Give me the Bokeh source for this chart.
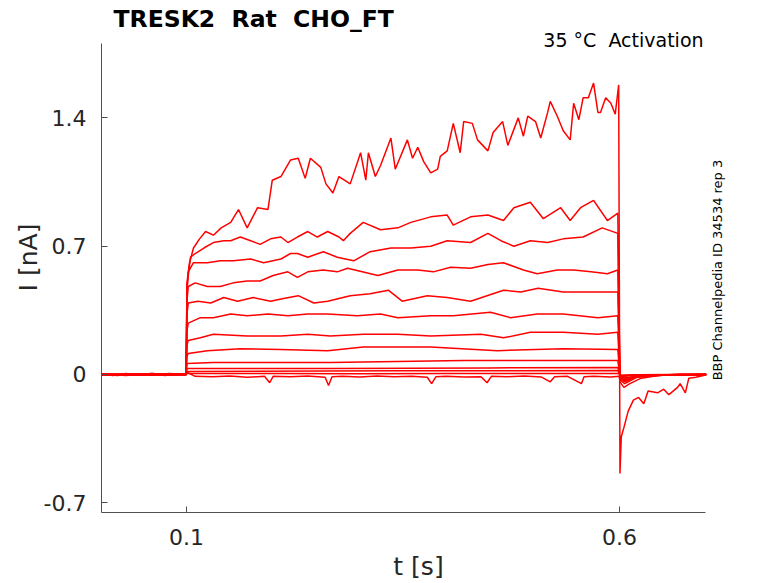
import math
from bokeh.plotting import figure
from bokeh.models import Range1d, FixedTicker, Label
from bokeh.embed import file_html
from bokeh.resources import INLINE

# ---------------- data ----------------
X_TICKS = [0.1, 0.6]
X_TICK_LABELS = ["0.1", "0.6"]
Y_TICKS = [-0.7, 0.0, 0.7, 1.4]
Y_TICK_LABELS = ["-0.7", "0", "0.7", "1.4"]

NB = "\u00a0"  # keeps the double spaces of the original (SVG collapses plain spaces)
TITLE = "TRESK2" + NB + " Rat" + NB + " CHO_FT"
SUBTITLE = "35 °C" + NB + " Activation"
SIDE_NOTE = "BBP Channelpedia ID 34534 rep 3"
X_LABEL = "t [s]"
Y_LABEL = "I [nA]"

# time [s] and current [nA] for each sweep
T1 = [0.0, 0.02, 0.04, 0.06, 0.08, 0.0995, 0.1005, 0.103, 0.108, 0.115, 0.122, 0.131, 0.140, 0.151,
      0.160, 0.170, 0.182, 0.194, 0.199, 0.209, 0.220, 0.229, 0.237, 0.243, 0.255, 0.261, 0.269,
      0.276, 0.289, 0.301, 0.307, 0.310, 0.318, 0.324, 0.336, 0.341, 0.355, 0.361, 0.367, 0.374,
      0.382, 0.390, 0.393, 0.401, 0.408, 0.416, 0.420, 0.430, 0.436, 0.448, 0.454, 0.465, 0.471,
      0.483, 0.489, 0.494, 0.503, 0.509, 0.517, 0.520, 0.528, 0.535, 0.543, 0.547, 0.553, 0.558,
      0.564, 0.570, 0.575, 0.578, 0.584, 0.590, 0.595, 0.599, 0.6005, 0.602, 0.605, 0.610, 0.616,
      0.622, 0.628, 0.633, 0.644, 0.651, 0.657, 0.667, 0.670, 0.676, 0.680, 0.688, 0.697, 0.700]
I1 = [0.003, -0.006, 0.004, -0.004, 0.005, 0.0, 0.50, 0.60, 0.69, 0.74, 0.78, 0.76, 0.80, 0.83,
      0.90, 0.80, 0.91, 0.90, 1.06, 1.08, 1.17, 1.18, 1.07, 1.18, 1.13, 1.04, 0.99,
      1.08, 1.04, 1.21, 1.06, 1.21, 1.08, 1.14, 1.29, 1.12, 1.28, 1.18, 1.24, 1.16,
      1.10, 1.12, 1.19, 1.22, 1.37, 1.21, 1.38, 1.37, 1.28, 1.22, 1.32, 1.38, 1.25,
      1.40, 1.30, 1.41, 1.38, 1.29, 1.43, 1.49, 1.41, 1.33, 1.28, 1.48, 1.39, 1.51,
      1.51, 1.59, 1.43, 1.43, 1.51, 1.48, 1.42, 1.58, -0.54, -0.34, -0.29, -0.20, -0.14,
      -0.125, -0.16, -0.09, -0.10, -0.08, -0.11, -0.07, -0.05, -0.10, -0.02, -0.015, -0.005, 0.0]

T2 = [0.0, 0.03, 0.06, 0.09, 0.0995, 0.1005, 0.1046, 0.110, 0.120, 0.131, 0.143, 0.151, 0.162,
      0.174, 0.185, 0.197, 0.209, 0.217, 0.228, 0.240, 0.251, 0.263, 0.276, 0.281, 0.289, 0.304,
      0.324, 0.344, 0.359, 0.382, 0.401, 0.408, 0.428, 0.448, 0.466, 0.478, 0.497, 0.512, 0.532,
      0.543, 0.555, 0.570, 0.586, 0.598, 0.6005, 0.605, 0.612, 0.625, 0.645, 0.670, 0.700]
I2 = [0.004, -0.005, 0.006, -0.003, 0.0, 0.48, 0.64, 0.66, 0.69, 0.72, 0.73, 0.73, 0.75,
      0.73, 0.71, 0.74, 0.75, 0.72, 0.75, 0.78, 0.75, 0.78, 0.75, 0.73, 0.77, 0.83,
      0.79, 0.80, 0.83, 0.86, 0.87, 0.815, 0.86, 0.87, 0.84, 0.91, 0.94, 0.85, 0.91,
      0.84, 0.91, 0.95, 0.84, 0.88, -0.04, -0.07, -0.05, -0.02, -0.005, 0.003, 0.0]

T3 = [0.0, 0.05, 0.0995, 0.1005, 0.102, 0.108, 0.124, 0.139, 0.154, 0.174, 0.189, 0.209, 0.220,
      0.228, 0.240, 0.258, 0.274, 0.293, 0.312, 0.336, 0.359, 0.382, 0.401, 0.428, 0.448, 0.463,
      0.478, 0.497, 0.517, 0.535, 0.558, 0.580, 0.598, 0.6005, 0.606, 0.62, 0.65, 0.70]
I3 = [-0.003, 0.004, 0.0, 0.45, 0.56, 0.61, 0.61, 0.62, 0.62, 0.63, 0.61, 0.63, 0.66,
      0.66, 0.64, 0.67, 0.64, 0.62, 0.67, 0.69, 0.69, 0.70, 0.73, 0.72, 0.77, 0.73,
      0.70, 0.73, 0.72, 0.74, 0.75, 0.80, 0.77, -0.03, -0.05, -0.015, -0.004, 0.0]

T4 = [0.0, 0.05, 0.0995, 0.1005, 0.102, 0.110, 0.124, 0.139, 0.154, 0.170, 0.185, 0.200, 0.217,
      0.228, 0.240, 0.258, 0.274, 0.286, 0.321, 0.344, 0.367, 0.385, 0.405, 0.428, 0.448, 0.466,
      0.489, 0.505, 0.528, 0.547, 0.567, 0.586, 0.598, 0.6005, 0.606, 0.62, 0.65, 0.70]
I4 = [0.003, -0.004, 0.0, 0.40, 0.48, 0.50, 0.48, 0.48, 0.50, 0.51, 0.51, 0.54, 0.56,
      0.53, 0.56, 0.57, 0.56, 0.58, 0.54, 0.57, 0.57, 0.56, 0.585, 0.58, 0.60, 0.61,
      0.57, 0.55, 0.57, 0.57, 0.56, 0.55, 0.57, -0.02, -0.04, -0.012, -0.003, 0.0]

T5 = [0.0, 0.05, 0.0995, 0.1005, 0.102, 0.113, 0.128, 0.143, 0.159, 0.177, 0.197, 0.212, 0.229,
      0.247, 0.263, 0.289, 0.312, 0.333, 0.349, 0.378, 0.401, 0.428, 0.466, 0.486, 0.506, 0.535,
      0.567, 0.598, 0.6005, 0.606, 0.62, 0.65, 0.70]
I5 = [-0.004, 0.003, 0.0, 0.33, 0.39, 0.40, 0.39, 0.42, 0.40, 0.42, 0.40, 0.415, 0.43,
      0.39, 0.40, 0.43, 0.44, 0.46, 0.40, 0.43, 0.42, 0.40, 0.46, 0.45, 0.47, 0.45,
      0.45, 0.45, -0.02, -0.035, -0.01, -0.003, 0.0]

T6 = [0.0, 0.05, 0.0995, 0.1005, 0.102, 0.116, 0.131, 0.151, 0.170, 0.194, 0.217, 0.240, 0.263,
      0.297, 0.324, 0.344, 0.382, 0.408, 0.451, 0.474, 0.505, 0.535, 0.575, 0.598, 0.6005, 0.606,
      0.62, 0.65, 0.70]
I6 = [0.002, -0.003, 0.0, 0.24, 0.28, 0.31, 0.31, 0.33, 0.32, 0.33, 0.32, 0.33, 0.33,
      0.32, 0.33, 0.31, 0.32, 0.32, 0.34, 0.31, 0.33, 0.33, 0.31, 0.32, -0.015, -0.03,
      -0.008, -0.002, 0.0]

T7 = [0.0, 0.05, 0.0995, 0.1005, 0.102, 0.116, 0.131, 0.170, 0.209, 0.240, 0.266, 0.304, 0.344,
      0.382, 0.440, 0.466, 0.497, 0.535, 0.575, 0.598, 0.6005, 0.608, 0.63, 0.70]
I7 = [-0.002, 0.003, 0.0, 0.16, 0.186, 0.20, 0.22, 0.21, 0.21, 0.22, 0.21, 0.22, 0.22,
      0.21, 0.22, 0.20, 0.23, 0.23, 0.22, 0.23, -0.012, -0.02, -0.005, 0.0]

T8 = [0.0, 0.05, 0.0995, 0.1005, 0.102, 0.124, 0.162, 0.209, 0.263, 0.304, 0.382, 0.459, 0.535,
      0.598, 0.6005, 0.61, 0.64, 0.70]
I8 = [0.002, -0.002, 0.0, 0.10, 0.115, 0.13, 0.14, 0.137, 0.13, 0.15, 0.15, 0.13, 0.14,
      0.137, -0.01, -0.015, -0.003, 0.0]

T9 = [0.0, 0.05, 0.0995, 0.1005, 0.131, 0.266, 0.420, 0.598, 0.6005, 0.62, 0.70]
I9 = [-0.002, 0.002, 0.0, 0.06, 0.066, 0.066, 0.077, 0.077, -0.008, -0.003, 0.0]

T10 = [0.0, 0.0995, 0.1005, 0.266, 0.450, 0.598, 0.6005, 0.62, 0.70]
I10 = [0.001, 0.0, 0.033, 0.033, 0.036, 0.038, -0.006, -0.002, 0.0]

T11 = [0.0, 0.0995, 0.1005, 0.350, 0.598, 0.6005, 0.70]
I11 = [0.0, 0.0, 0.016, 0.02, 0.022, -0.004, 0.0]

T12 = [0.0, 0.015, 0.03, 0.045, 0.06, 0.075, 0.09, 0.0995, 0.1005, 0.11, 0.13, 0.15, 0.17, 0.19,
       0.196, 0.20, 0.22, 0.24, 0.26, 0.264, 0.268, 0.28, 0.30, 0.32, 0.34, 0.36, 0.378, 0.383,
       0.388, 0.40, 0.42, 0.44, 0.447, 0.452, 0.47, 0.49, 0.51, 0.520, 0.525, 0.54, 0.556, 0.559,
       0.57, 0.59, 0.5995, 0.6005, 0.606, 0.62, 0.64, 0.66, 0.68, 0.70]
I12 = [0.004, -0.006, 0.005, -0.004, 0.006, -0.005, 0.003, 0.0, 0.012, -0.01, -0.012, -0.008,
       -0.015, -0.01, -0.045, -0.01, -0.012, -0.008, -0.015, -0.06, -0.012, -0.01, -0.014,
       -0.008, -0.012, -0.01, -0.015, -0.05, -0.012, -0.01, -0.014, -0.012, -0.045, -0.01,
       -0.012, -0.008, -0.014, -0.04, -0.012, -0.01, -0.05, -0.012, -0.01, -0.014, -0.01,
       -0.03, -0.02, -0.01, -0.006, -0.003, -0.004, -0.002]

T13 = [0.0, 0.1, 0.1005, 0.2, 0.3, 0.4, 0.5, 0.5995, 0.6005, 0.62, 0.7]
I13 = [0.0, 0.002, 0.006, 0.005, 0.004, 0.006, 0.005, 0.006, -0.01, -0.002, 0.0]

SWEEPS = [(T1, I1), (T2, I2), (T3, I3), (T4, I4), (T5, I5), (T6, I6), (T7, I7),
          (T8, I8), (T9, I9), (T10, I10), (T11, I11), (T12, I12), (T13, I13)]
for _t, _i in SWEEPS:
    if len(_t) != len(_i):
        raise ValueError("length mismatch")

# axis extents (the drawn axes) and the wider frame that also holds the texts
X_AXIS_BOUNDS = (0.0018, 0.6993)
Y_AXIS_BOUNDS = (-0.753, 1.806)

# ---------------- figure ----------------
FONT = "DejaVu Sans"
AXIS_GREY = "#505050"
TEXT = "#262626"

p = figure(width=778, height=583, output_backend="svg", toolbar_location=None,
           x_range=Range1d(0.0018, 0.7339), y_range=Range1d(-0.7529, 2.0295),
           min_border_left=101, min_border_right=43, min_border_top=2, min_border_bottom=71,
           background_fill_color="white", border_fill_color="white", outline_line_color=None)
p.grid.visible = False

for t, i in SWEEPS:
    p.line(t, i, line_color="#ff0000", line_width=1.5)

p.xaxis.ticker = FixedTicker(ticks=X_TICKS)
p.xaxis.major_label_overrides = dict(zip(X_TICKS, X_TICK_LABELS))
p.xaxis.bounds = X_AXIS_BOUNDS
p.yaxis.ticker = FixedTicker(ticks=Y_TICKS)
p.yaxis.major_label_overrides = dict(zip(Y_TICKS, Y_TICK_LABELS))
p.yaxis.bounds = Y_AXIS_BOUNDS

for ax in (p.xaxis, p.yaxis):
    ax.axis_line_color = AXIS_GREY
    ax.axis_line_width = 1
    ax.major_tick_line_color = AXIS_GREY
    ax.major_tick_in = 6
    ax.major_tick_out = 0
    ax.minor_tick_line_color = None
    ax.major_label_text_font = FONT
    ax.major_label_text_font_size = "22px"
    ax.major_label_text_color = TEXT
    ax.axis_label_text_font = FONT
    ax.axis_label_text_font_size = "25px"
    ax.axis_label_text_font_style = "normal"
    ax.axis_label_text_color = TEXT
p.xaxis.major_label_standoff = 16
p.yaxis.major_label_standoff = 15
p.xaxis.axis_label = X_LABEL
p.yaxis.axis_label = Y_LABEL
p.xaxis.axis_label_standoff = 4
p.yaxis.axis_label_standoff = -2

p.add_layout(Label(x=0.0157, y=1.9387, text=TITLE, text_font=FONT, text_font_size="23.5px",
                   text_font_style="bold", text_color="black", text_align="left",
                   text_baseline="alphabetic"))
p.add_layout(Label(x=0.697, y=1.826, text=SUBTITLE, text_font=FONT, text_font_size="19px",
                   text_color="black", text_align="right", text_baseline="alphabetic"))
p.add_layout(Label(x=0.7131, y=0.570, text=SIDE_NOTE, text_font=FONT, text_font_size="13px",
                   text_color="black", text_align="center", text_baseline="middle",
                   angle=math.pi / 2))

open("out.html", "w").write(file_html(p, INLINE))
